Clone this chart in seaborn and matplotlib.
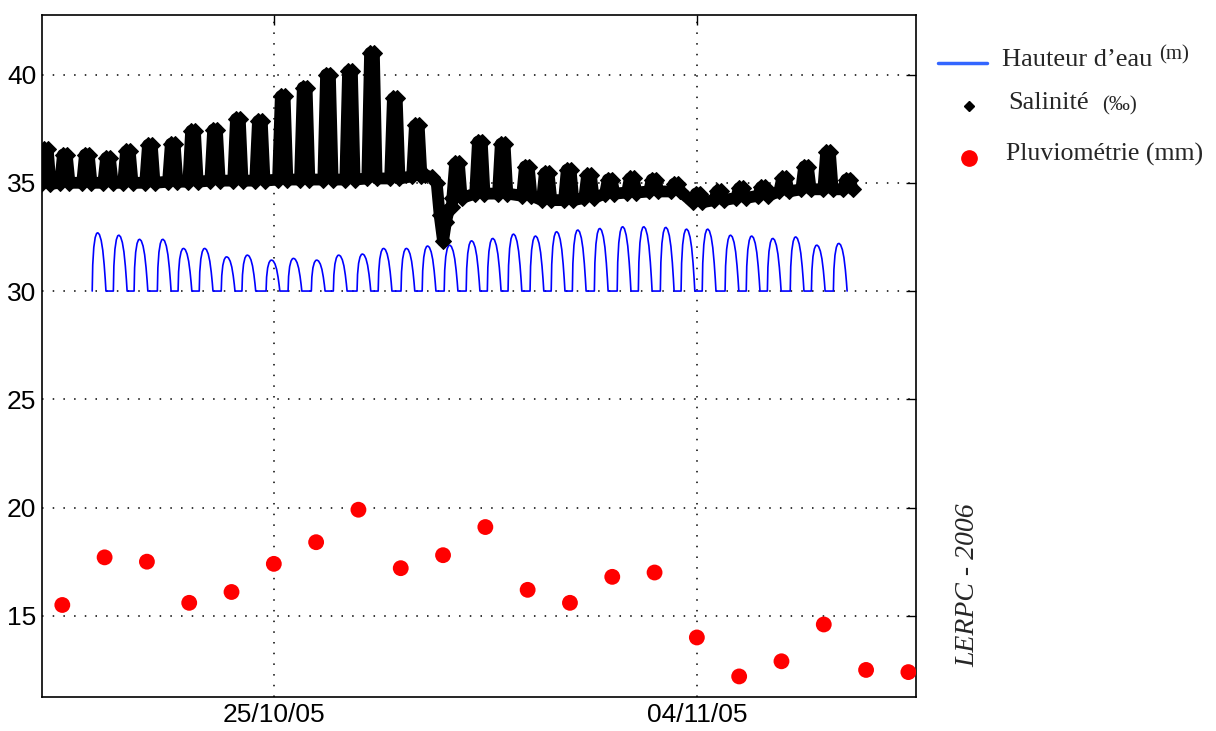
import numpy as np
import pandas as pd
import matplotlib
matplotlib.use("Agg")
import matplotlib.pyplot as plt
import matplotlib.dates as mdates
from matplotlib.lines import Line2D
import seaborn as sns

# ---- data (days counted from 25/10/05 00:00) ----
# rainfall, one value per day from 20/10/05 to 09/11/05
rain_dates = pd.date_range("2005-10-20", "2005-11-09", freq="D")
rain_mm = [15.5, 17.7, 17.5, 15.6, 16.1, 17.4, 18.4, 19.9, 17.2, 17.8, 19.1,
           16.2, 15.6, 16.8, 17.0, 14.0, 12.2, 12.9, 14.6, 12.5, 12.4]

# water level: time and height of each high tide
tide_peak_day = [-4.16, -3.66, -3.17, -2.62, -2.13, -1.63, -1.11, -0.62, -0.05,
                 0.47, 1.02, 1.54, 2.10, 2.60, 3.14, 3.64, 4.16, 4.68, 5.18,
                 5.67, 6.19, 6.69, 7.19, 7.71, 8.25, 8.75, 9.27, 9.76, 10.26,
                 10.80, 11.30, 11.80, 12.34, 12.84, 13.36]
tide_peak_m = [32.69, 32.58, 32.39, 32.39, 31.97, 31.97, 31.58, 31.66, 31.43,
               31.51, 31.43, 31.66, 31.71, 31.97, 31.97, 32.08, 32.12, 32.32,
               32.43, 32.63, 32.54, 32.74, 32.82, 32.89, 32.97, 32.97, 32.94,
               32.86, 32.86, 32.58, 32.54, 32.43, 32.50, 32.12, 32.20]
# shape of one tide (hours from high water, share of the peak)
tide_shape_hours = [-3.2, -2.9, -2.3, -1.5, -0.7, 0.0, 0.9, 1.9, 2.8, 3.6, 4.2, 4.6]
tide_shape_frac = [0.0, 0.45, 0.75, 0.92, 0.99, 1.0, 0.97, 0.87, 0.70, 0.45, 0.2, 0.0]

# salinity: one spike per tide (time, top, level around it)
sal_col_day = [-5.39, -4.94, -4.42, -3.92, -3.45, -2.93, -2.39, -1.91, -1.39,
               -0.85, -0.33, 0.21, 0.73, 1.28, 1.80, 2.32, 2.86, 3.38,
               4.33, 4.87, 5.41, 5.98, 6.45, 6.97, 7.45, 7.94, 8.46, 8.98,
               9.50, 10.02, 10.52, 11.04, 11.56, 12.06, 12.58, 13.10, 13.57]
sal_col_top = [36.55, 36.3, 36.3, 36.15, 36.45, 36.75, 36.8, 37.4, 37.45,
               37.95, 37.85, 39.0, 39.4, 40.0, 40.15, 41.0, 38.9, 37.65,
               35.9, 36.9, 36.8, 35.75, 35.45, 35.6, 35.35, 35.15, 35.2, 35.15,
               34.95, 34.5, 34.6, 34.75, 34.8, 35.2, 35.75, 36.4, 35.15]
sal_col_low = [34.95, 35.0, 35.0, 35.0, 35.0, 35.0, 35.05, 35.05, 35.1,
               35.1, 35.1, 35.15, 35.15, 35.15, 35.15, 35.2, 35.2, 35.3,
               34.3, 34.5, 34.5, 34.4, 34.2, 34.2, 34.3, 34.5, 34.55, 34.6,
               34.6, 34.1, 34.2, 34.3, 34.4, 34.6, 34.7, 34.7, 34.7]
# freshwater drop around 29/10
sal_dip_day = [3.57, 3.74, 3.85, 3.92, 4.00, 4.07, 4.14, 4.21]
sal_dip_val = [35.35, 35.25, 35.0, 33.5, 32.3, 33.2, 33.8, 33.9]

ORIGIN = pd.Timestamp("2005-10-25")
SPIKE_HALF = 0.11  # half width of a salinity spike at its foot, in days
TOP_HALF = 0.045   # half width of its flat top, in days


def to_time(days):
    return ORIGIN + pd.to_timedelta(np.asarray(days, dtype=float), unit="D")


rows = []
for d, h in zip(tide_peak_day, tide_peak_m):
    for off, f in zip(tide_shape_hours, tide_shape_frac):
        rows.append((d + off / 24.0, 30 + (h - 30) * f))
tide = pd.DataFrame(rows, columns=["day", "hauteur"])
tide["time"] = to_time(tide["day"])

rows = []
for c, top, low in zip(sal_col_day, sal_col_top, sal_col_low):
    rows += [(c - SPIKE_HALF, low), (c - TOP_HALF, top),
             (c + TOP_HALF, top), (c + SPIKE_HALF, low)]
rows += list(zip(sal_dip_day, sal_dip_val))
sal = pd.DataFrame(rows, columns=["day", "salinite"]).sort_values("day")
sal["time"] = to_time(sal["day"])

rain = pd.DataFrame({"time": rain_dates, "pluie": rain_mm})

# ---- plot ----
sns.set_style("white")
plt.rcParams["font.family"] = ["Liberation Sans", "DejaVu Sans"]

fig = plt.figure(figsize=(12.16, 7.31), dpi=100)
ax = fig.add_axes([42 / 1216, 34 / 731, 874 / 1216, 682 / 731])

sns.lineplot(data=tide, x="time", y="hauteur", color="#0000ff", lw=1.2,
             estimator=None, sort=False, ax=ax)
sns.lineplot(data=sal, x="time", y="salinite", color="black", lw=8.5,
             marker="D", markersize=8, markeredgecolor="black",
             solid_joinstyle="round", estimator=None, sort=False, ax=ax)
sns.scatterplot(data=rain, x="time", y="pluie", s=130, color="red",
                edgecolor="none", zorder=3, ax=ax)

ax.set_xlim(to_time([-5.48])[0], to_time([15.18])[0])
ax.set_ylim(11.25, 42.75)
ax.set_yticks([15, 20, 25, 30, 35, 40])
ax.xaxis.set_major_locator(mdates.DayLocator(bymonthday=[4, 25]))
ax.xaxis.set_major_formatter(mdates.DateFormatter("%d/%m/%y"))
ax.set_xlabel("")
ax.set_ylabel("")
ax.grid(True, color="black", linestyle=(0, (1, 6)), lw=1.1)
ax.tick_params(direction="in", length=7, width=1, top=True, right=True,
               labelsize=19, pad=4, colors="black")
for s in ax.spines.values():
    s.set_color("black")
    s.set_linewidth(1.2)

# ---- legend drawn beside the axes ----
W, H = 1216, 731
serif = ["Liberation Serif", "DejaVu Serif"]
fig.add_artist(Line2D([938 / W, 987 / W], [1 - 63 / H, 1 - 63 / H],
                      color="#3366ff", lw=2.5))
fig.add_artist(Line2D([969 / W], [1 - 106 / H], marker="D", ms=5,
                      color="black", lw=0))
fig.add_artist(Line2D([969 / W], [1 - 158 / H], marker="o", ms=11,
                      color="red", lw=0))
fig.text(1002 / W, 1 - 60 / H, "Hauteur d’eau", family=serif, size=19, va="center")
fig.text(1159 / W, 1 - 55 / H, "(m)", family=serif, size=15, va="center")
fig.text(1008 / W, 1 - 103 / H, "Salinité", family=serif, size=19, va="center")
fig.text(1102 / W, 1 - 106 / H, "(‰)", family=serif, size=15, va="center")
fig.text(1006 / W, 1 - 154 / H, "Pluviométrie (mm)", family=serif, size=18.6, va="center")
fig.text(968 / W, 1 - 585 / H, "LERPC - 2006", family=serif, size=20,
         style="italic", rotation=90, ha="center", va="center")

fig.savefig("out.png", dpi=100)
